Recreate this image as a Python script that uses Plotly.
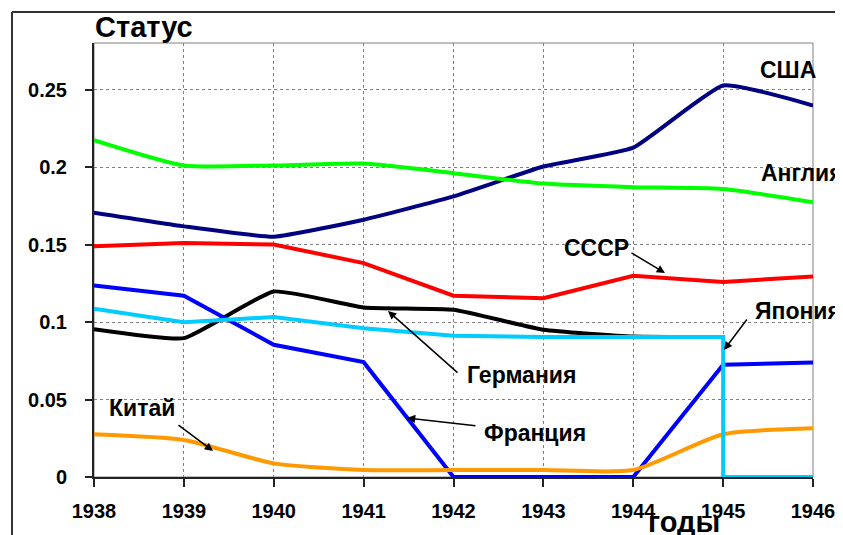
import plotly.graph_objects as go

years = [1938, 1939, 1940, 1941, 1942, 1943, 1944, 1945, 1946]

usa = [0.1705, 0.1617, 0.155, 0.166, 0.181, 0.2003, 0.2125, 0.2526, 0.2397]
england = [0.2173, 0.201, 0.201, 0.2022, 0.196, 0.1893, 0.187, 0.1858, 0.1772]
ussr = [0.1488, 0.151, 0.150, 0.138, 0.117, 0.1154, 0.1298, 0.1258, 0.1294]
germany_years = [1938, 1939, 1940, 1941, 1942, 1943, 1944, 1945]
germany = [0.0954, 0.0896, 0.1197, 0.1094, 0.1079, 0.095, 0.0906, 0.0903]
france = [0.1236, 0.117, 0.0853, 0.0741, 0.0, 0.0, 0.0, 0.0725, 0.0738]
china = [0.0276, 0.0239, 0.0088, 0.0045, 0.0045, 0.0045, 0.0045, 0.0276, 0.0314]
japan_years = [1938, 1939, 1940, 1941, 1942, 1943, 1944, 1945, 1945, 1946]
japan = [0.1085, 0.0999, 0.1032, 0.096, 0.0911, 0.0904, 0.0904, 0.0903, 0.0, 0.0]

ytick_vals = [0, 0.05, 0.1, 0.15, 0.2, 0.25]
ytick_text = ["0", "0.05", "0.1", "0.15", "0.2", "0.25"]

FONT = "Liberation Sans"
OFF = 8  # page body margin
W, H = 843 - OFF, 535 - OFF
# plot area edges in window pixels
L, R, T, B = 94, 813, 43, 477


def px(x):
    return (x - L) / (R - L)


def py(y):
    return (B - y) / (B - T)


def dx(x):
    return 1938 + (x - L) / ((R - L) / 8)


def dy(y):
    return (B - y) / (B - T) * 0.28


fig = go.Figure()

series = [
    (years, usa, "#000080", "spline", 0.4),
    (years, england, "#00FF00", "spline", 0.6),
    (years, ussr, "#FF0000", "linear", 0),
    (germany_years, germany, "#000000", "spline", 0.4),
    (years, france, "#0000FF", "linear", 0),
    (years, china, "#FF9900", "spline", 0.6),
    (japan_years, japan, "#00CCFF", "linear", 0),
]
for xs, ys, col, shape, sm in series:
    line = dict(color=col, width=4, shape=shape)
    if shape == "spline":
        line["smoothing"] = sm
    fig.add_trace(go.Scatter(
        x=xs, y=ys, mode="lines", line=line,
        showlegend=False, hoverinfo="skip",
    ))

annotations = []
labels = [
    ("США", 788, 70, 23),
    ("Англия", 802, 173, 23),
    ("СССР", 596, 248, 23),
    ("Япония", 798, 311, 23),
    ("Германия", 521, 375, 23),
    ("Франция", 535, 433, 23),
    ("Китай", 142, 408, 23),
]
for txt, cx, cy, size in labels:
    annotations.append(dict(
        text=txt, x=px(cx), y=py(cy), xref="paper", yref="paper",
        xanchor="center", yanchor="middle", showarrow=False,
        font=dict(family=FONT, size=size, color="black", weight="bold"),
    ))

arrows = [
    ((630, 252), (665, 273)),
    ((748, 318), (724, 350)),
    ((459, 374), (388, 311)),
    ((477, 426), (407, 418)),
    ((177, 424), (213, 451)),
]
for (tx, ty), (hx, hy) in arrows:
    annotations.append(dict(
        text="", x=dx(hx), y=dy(hy), ax=dx(tx), ay=dy(ty),
        xref="x", yref="y", axref="x", ayref="y",
        showarrow=True, arrowhead=2, arrowsize=1.1, arrowwidth=1.5,
        arrowcolor="black",
    ))

annotations.append(dict(
    text="Статус", x=px(93), y=py(45), xref="paper", yref="paper",
    xanchor="left", yanchor="bottom", showarrow=False,
    font=dict(family=FONT, size=29, color="black", weight="bold"),
))
annotations.append(dict(
    text="годы", x=px(684), y=py(522), xref="paper", yref="paper",
    xanchor="center", yanchor="middle", showarrow=False,
    font=dict(family=FONT, size=29, color="black", weight="bold"),
))

shapes = [
    dict(type="rect", xref="paper", yref="paper", x0=0, y0=0, x1=1, y1=1,
         line=dict(color="#808080", width=1), layer="below"),
    dict(type="line", xref="paper", yref="paper", x0=px(12), y0=py(12),
         x1=px(12), y1=py(545), line=dict(color="#333333", width=2)),
    dict(type="line", xref="paper", yref="paper", x0=px(12), y0=py(12),
         x1=px(860), y1=py(12), line=dict(color="#333333", width=2)),
]

fig.update_layout(
    width=W, height=H,
    margin=dict(l=L - OFF, r=(W + OFF) - R, t=T - OFF, b=(H + OFF) - B,
                autoexpand=False),
    paper_bgcolor="white", plot_bgcolor="white",
    annotations=annotations, shapes=shapes,
    xaxis=dict(
        range=[1938, 1946], tickvals=years, ticktext=[str(y) for y in years],
        showgrid=True, gridcolor="#808080", griddash="dot", gridwidth=1,
        showline=True, linecolor="#222222", linewidth=2,
        ticks="outside", ticklen=8, tickcolor="#222222", tickwidth=1.5,
        ticklabelstandoff=7, zeroline=False, automargin=False,
        tickfont=dict(family=FONT, size=20, color="black", weight="bold"),
    ),
    yaxis=dict(
        range=[0, 0.28], tickvals=ytick_vals, ticktext=ytick_text,
        showgrid=True, gridcolor="#808080", griddash="dot", gridwidth=1,
        showline=True, linecolor="#222222", linewidth=2,
        ticks="outside", ticklen=7, tickcolor="#222222", tickwidth=1.5,
        ticklabelstandoff=14, zeroline=False, automargin=False,
        tickfont=dict(family=FONT, size=20, color="black", weight="bold"),
    ),
)

fig.write_html("out.html")
